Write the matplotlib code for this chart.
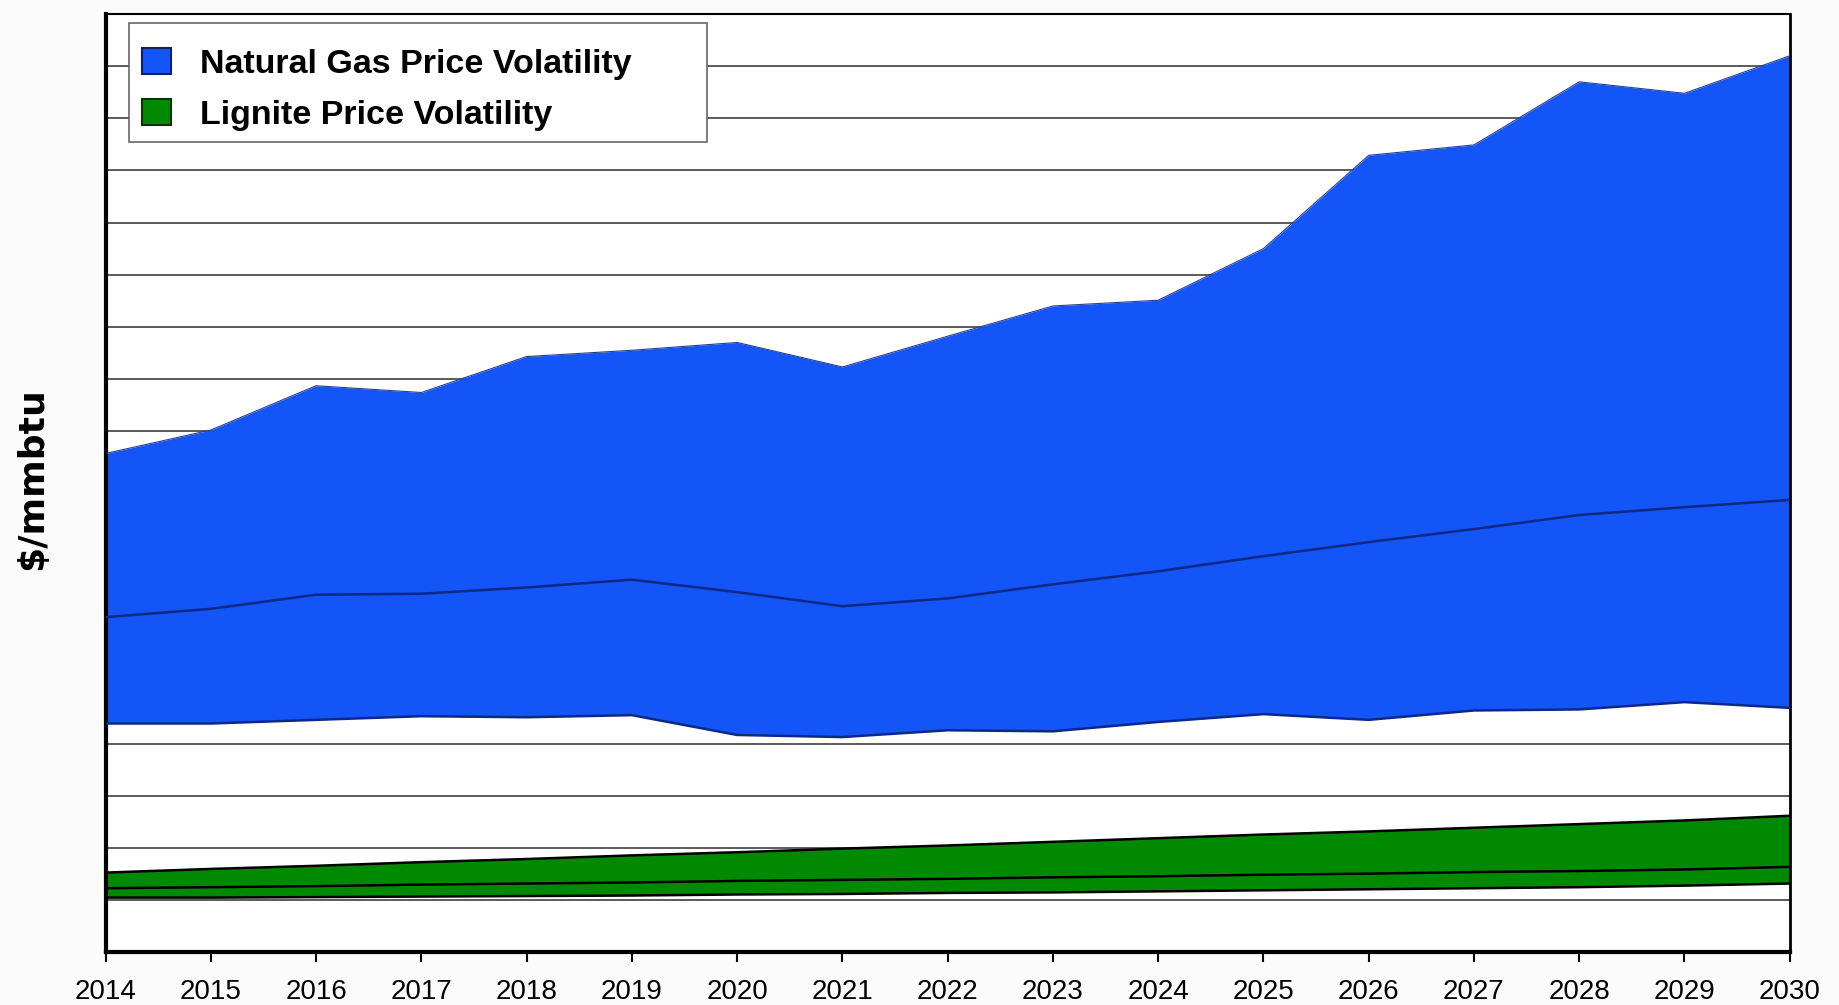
import numpy as np
import matplotlib.pyplot as plt
from matplotlib.patches import Patch, Rectangle

# Years on the x axis
years = list(range(2014, 2031))

# Natural gas volatility band ($/mmbtu)
gas_high = [9.57, 10.02, 10.87, 10.74, 11.43, 11.55, 11.70, 11.23, 11.82,
            12.40, 12.51, 13.50, 15.29, 15.49, 16.70, 16.48, 17.20]
gas_mid = [6.43, 6.59, 6.86, 6.88, 7.00, 7.15, 6.91, 6.64, 6.79,
           7.06, 7.31, 7.60, 7.87, 8.12, 8.39, 8.54, 8.68]
gas_low = [4.39, 4.39, 4.46, 4.53, 4.51, 4.55, 4.17, 4.13, 4.26,
           4.24, 4.42, 4.57, 4.46, 4.64, 4.66, 4.80, 4.69]

# Lignite volatility band
lig_high = [1.53, 1.60, 1.66, 1.73, 1.79, 1.86, 1.92, 1.99, 2.05,
            2.12, 2.19, 2.26, 2.32, 2.39, 2.46, 2.53, 2.62]
lig_mid = [1.23, 1.25, 1.27, 1.30, 1.32, 1.34, 1.37, 1.39, 1.41,
           1.44, 1.46, 1.49, 1.51, 1.54, 1.56, 1.59, 1.64]
lig_low = [1.05, 1.05, 1.06, 1.07, 1.08, 1.09, 1.11, 1.12, 1.14,
           1.15, 1.17, 1.19, 1.21, 1.23, 1.25, 1.28, 1.32]

labels = ['Natural Gas Price Volatility', 'Lignite Price Volatility']

blue = '#1455f7'
navy = '#0c2a85'
green = '#018a01'

fig = plt.figure(figsize=(18.39, 10.05), dpi=100, facecolor='#fbfbfb')
ax = fig.add_axes([0.0574, 0.0524, 0.9158, 0.9336])
ax.set_facecolor('white')

# gas band
ax.fill_between(years, gas_low, gas_high, color=blue, lw=0, zorder=2)
ax.plot(years, gas_high, color='#2a3f90', lw=0.8, zorder=3)
ax.plot(years, gas_mid, color=navy, lw=1.8, zorder=3)
ax.plot(years, gas_low, color=navy, lw=1.8, zorder=3)

# lignite band
ax.fill_between(years, lig_low, lig_high, color=green, lw=0, zorder=2)
for s in (lig_high, lig_mid, lig_low):
    ax.plot(years, s, color='black', lw=1.8, zorder=3)

ax.set_xlim(2014, 2030)
ax.set_ylim(0, 18)
ax.set_yticks(range(0, 19))
ax.yaxis.grid(True, color='#5a5a5a', lw=1.4, zorder=0)
ax.set_axisbelow(True)
ax.tick_params(axis='y', left=False, labelleft=False)
ax.set_xticks(years)
ax.set_xticklabels([str(y) for y in years], fontsize=20,
                   fontfamily='Liberation Sans')
ax.tick_params(axis='x', direction='out', length=7, width=1.5, pad=12.5)

ax.spines['left'].set_linewidth(3)
ax.spines['bottom'].set_linewidth(3)
ax.spines['right'].set_linewidth(2)
ax.spines['top'].set_linewidth(1.5)

# legend frame drawn as a plain box so it can be wider than its text
ax.add_patch(Rectangle((0.0139, 0.8636), 0.3432, 0.1268, transform=ax.transAxes,
                       facecolor='white', edgecolor='#666666', lw=1.2, zorder=5))
handles = [Patch(facecolor=blue, edgecolor='#102060', lw=1.5),
           Patch(facecolor=green, edgecolor='#103010', lw=1.5)]
leg = ax.legend(handles, labels, loc='upper left', bbox_to_anchor=(0.0215, 0.964),
                frameon=False, borderaxespad=0, borderpad=0,
                handlelength=0.85, handleheight=0.8, handletextpad=0.85,
                labelspacing=0.58,
                prop={'family': 'Liberation Sans', 'weight': 'bold', 'size': 24.5})
leg.set_zorder(6)

fig.text(0.0174, 0.524, '$/mmbtu', rotation=90, ha='center', va='center',
         fontsize=26, fontweight='bold', fontfamily='DejaVu Sans')

fig.savefig('out.png', dpi=100, facecolor=fig.get_facecolor())
